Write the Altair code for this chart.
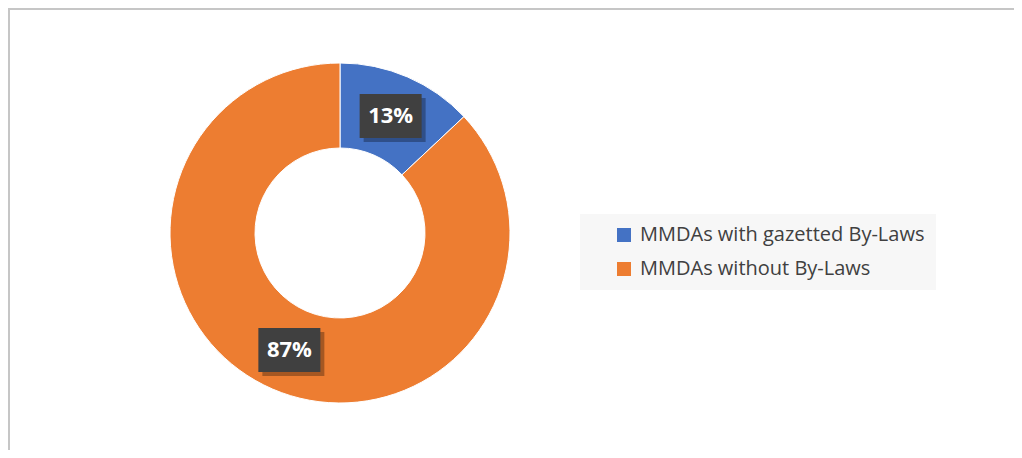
import altair as alt
import numpy as np
import pandas as pd

categories = ["MMDAs with gazetted By-Laws", "MMDAs without By-Laws"]
shares = [13, 87]
labels = ["13%", "87%"]
colors = ["#4472C4", "#ED7D31"]

W, H = 1006, 442
CX, CY = 332, 225
R_OUT, R_IN = 170, 85
R_LAB = (R_OUT + R_IN) / 2
BW, BH = 31, 22

df = pd.DataFrame({"category": categories, "share": shares, "label": labels, "order": [0, 1]})
total = df["share"].sum()
mid = (df["share"].cumsum() - df["share"] / 2) / total * 2 * np.pi
df["lx"] = CX + R_LAB * np.sin(mid)
df["ly"] = CY - R_LAB * np.cos(mid)
df["bx"] = df["lx"] - BW
df["bx2"] = df["lx"] + BW
df["by"] = df["ly"] - BH
df["by2"] = df["ly"] + BH
df["sx"] = df["bx"] + 4
df["sx2"] = df["bx2"] + 4
df["sy"] = df["by"] + 4
df["sy2"] = df["by2"] + 4

base = alt.Chart(df)

donut = base.mark_arc(outerRadius=R_OUT, innerRadius=R_IN, stroke="white", strokeWidth=1).encode(
    theta=alt.Theta("share:Q", stack=True),
    color=alt.Color(
        "category:N",
        scale=alt.Scale(domain=categories, range=colors),
        legend=alt.Legend(title=None),
    ),
    order=alt.Order("order:Q"),
    x=alt.value(CX),
    y=alt.value(CY),
)

shadow = base.mark_rect(color="black", opacity=0.3).encode(
    x=alt.X("sx:Q", scale=None),
    x2="sx2:Q",
    y=alt.Y("sy:Q", scale=None),
    y2="sy2:Q",
)

box = base.mark_rect(color="#404040").encode(
    x=alt.X("bx:Q", scale=None),
    x2="bx2:Q",
    y=alt.Y("by:Q", scale=None),
    y2="by2:Q",
)

text = base.mark_text(font="Open Sans", fontSize=22, fontWeight="bold", color="white").encode(
    x=alt.X("lx:Q", scale=None),
    y=alt.Y("ly:Q", scale=None),
    text="label:N",
)

border_top = base.mark_rule(color="#c6c6c6", strokeWidth=2).encode(
    x=alt.value(0), x2=alt.value(W), y=alt.value(1)
)
border_left = base.mark_rule(color="#c6c6c6", strokeWidth=2).encode(
    x=alt.value(1), y=alt.value(0), y2=alt.value(H)
)

chart = (
    alt.layer(border_top, border_left, donut, shadow, box, text)
    .properties(width=W, height=H, padding=0, autosize="none")
    .configure_view(stroke=None)
    .configure_legend(
        orient="none",
        legendX=572,
        legendY=206,
        fillColor="#f7f7f7",
        padding=11,
        symbolType="square",
        symbolSize=196,
        symbolStrokeWidth=0,
        symbolOffset=23,
        labelOffset=6,
        labelFont="Open Sans",
        labelFontSize=20,
        labelColor="#404040",
        labelLimit=500,
        rowPadding=14,
    )
)

chart.save("out.html", embed_options={"renderer": "svg", "actions": False})
